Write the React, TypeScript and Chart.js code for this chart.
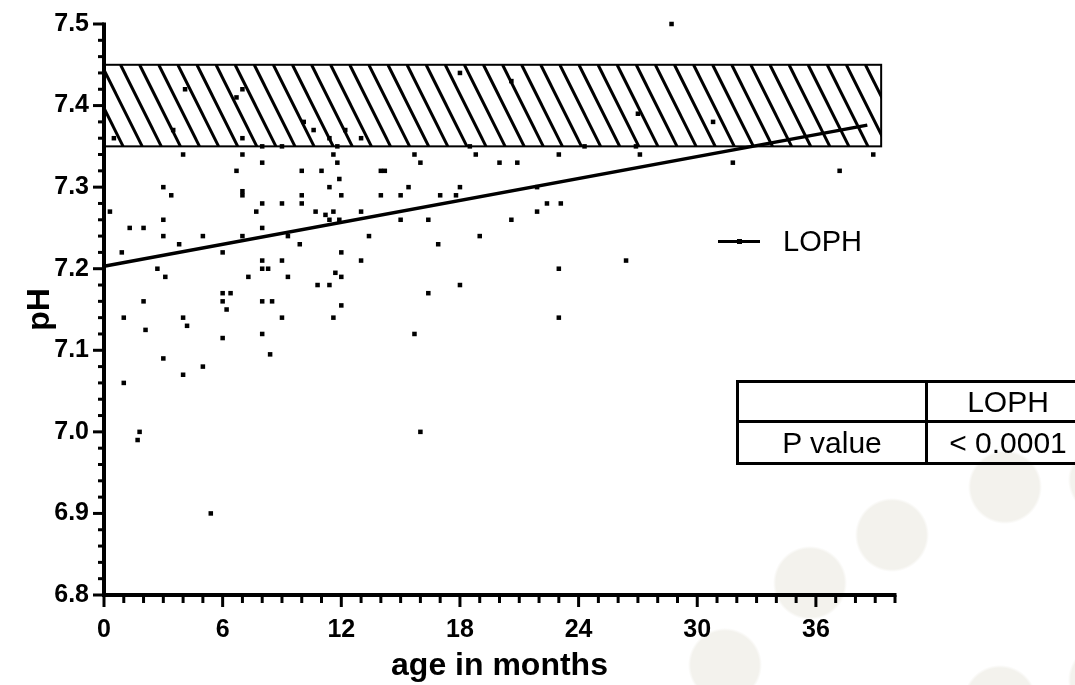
import React, { useEffect, useRef } from 'react';
import { Chart, registerables } from 'chart.js';

Chart.register(...registerables);

// ---- data ----
const AGE_MONTHS = [
  0.5, 4.1, 3.5, 6.7, 7.0, 7.0, 10.1, 10.6, 11.4, 12.2,
  8.0, 9.0, 11.8, 4.0, 7.0, 11.6, 8.0, 11.8, 6.7, 10.0,
  11.0, 11.9, 3.0, 11.4, 7.0, 3.4, 7.0, 10.0, 12.0, 8.0,
  9.0, 10.0, 0.3, 7.7, 10.7, 11.6, 11.2, 11.4, 11.9, 3.0,
  1.3, 2.0, 8.0, 3.0, 5.0, 7.0, 9.3, 3.8, 9.9, 0.9,
  6.0, 12.0, 8.0, 9.0, 2.7, 8.0, 8.3, 11.7, 3.1, 7.3,
  9.3, 12.0, 10.8, 11.4, 6.0, 6.4, 2.0, 6.0, 8.0, 8.5,
  12.0, 6.2, 1.0, 4.0, 9.0, 11.6, 2.1, 4.2, 6.0, 8.0,
  8.4, 3.0, 5.0, 4.0, 1.0, 1.8, 1.7, 5.4,
  13.0, 18.0, 20.6, 18.5, 24.3, 15.7, 18.8, 23.0, 16.0, 20.0,
  20.9, 14.0, 14.2, 15.4, 18.0, 21.9, 14.0, 15.0, 17.0, 17.8,
  22.4, 23.1, 13.0, 21.9, 15.0, 16.4, 20.6, 13.4, 19.0, 16.9,
  13.0, 23.0, 18.0, 16.4, 23.0, 15.7, 16.0,
  28.7, 27.0, 30.8, 26.9, 27.1, 38.9, 31.8, 37.2, 26.4,
];
const PH_VALUES = [
  7.36, 7.42, 7.37, 7.41, 7.42, 7.36, 7.38, 7.37, 7.36, 7.37,
  7.35, 7.35, 7.35, 7.34, 7.34, 7.34, 7.33, 7.33, 7.32, 7.32,
  7.32, 7.31, 7.30, 7.30, 7.295, 7.29, 7.29, 7.29, 7.29, 7.28,
  7.28, 7.28, 7.27, 7.27, 7.27, 7.27, 7.266, 7.26, 7.26, 7.26,
  7.25, 7.25, 7.25, 7.24, 7.24, 7.24, 7.24, 7.23, 7.23, 7.22,
  7.22, 7.22, 7.21, 7.21, 7.20, 7.20, 7.20, 7.195, 7.19, 7.19,
  7.19, 7.19, 7.18, 7.18, 7.17, 7.17, 7.16, 7.16, 7.16, 7.16,
  7.155, 7.15, 7.14, 7.14, 7.14, 7.14, 7.125, 7.13, 7.115, 7.12,
  7.095, 7.09, 7.08, 7.07, 7.06, 7.00, 6.99, 6.90,
  7.36, 7.44, 7.43, 7.35, 7.35, 7.34, 7.34, 7.34, 7.33, 7.33,
  7.33, 7.32, 7.32, 7.30, 7.30, 7.30, 7.29, 7.29, 7.29, 7.29,
  7.28, 7.28, 7.27, 7.27, 7.26, 7.26, 7.26, 7.24, 7.24, 7.23,
  7.21, 7.20, 7.18, 7.17, 7.14, 7.12, 7.00,
  7.50, 7.39, 7.38, 7.35, 7.34, 7.34, 7.33, 7.32, 7.21,
];
const FIT_X = [0, 38.6];
const FIT_Y = [7.203, 7.376];
const NORMAL_PH = [7.35, 7.45];
const NORMAL_X = [0, 39.3];
const X_TICK_LABELS = ['0', '6', '12', '18', '24', '30', '36'];
const Y_TICK_LABELS = ['6.8', '6.9', '7.0', '7.1', '7.2', '7.3', '7.4', '7.5'];
const SERIES_NAME = 'LOPH';
const TABLE_ROW = 'P value';
const P_VALUE = '< 0.0001';
const X_TITLE = 'age in months';
const Y_TITLE = 'pH';

const FONT = '"Liberation Sans", Arial, Helvetica, sans-serif';

const isMajorY = (v: number) =>
  Math.abs(v * 10 - Math.round(v * 10)) < 1e-6 && Y_TICK_LABELS.includes(v.toFixed(1));
const isMajorX = (v: number) => X_TICK_LABELS.includes(String(Math.round(v))) && Math.abs(v - Math.round(v)) < 1e-6;

const bandPlugin = {
  id: 'normalBand',
  beforeDatasetsDraw(chart: any) {
    const { ctx, scales } = chart;
    const xs = scales.x, ys = scales.y;
    const x0 = xs.getPixelForValue(NORMAL_X[0]);
    const x1 = xs.getPixelForValue(NORMAL_X[1]);
    const y0 = ys.getPixelForValue(NORMAL_PH[1]);
    const y1 = ys.getPixelForValue(NORMAL_PH[0]);
    const h = y1 - y0;
    ctx.save();
    ctx.fillStyle = '#fff';
    ctx.fillRect(x0, y0, x1 - x0, h);
    ctx.beginPath();
    ctx.rect(x0, y0, x1 - x0, h);
    ctx.clip();
    ctx.strokeStyle = '#000';
    ctx.lineWidth = 3;
    const spacing = 19.1;
    const dx = h * 0.5;
    for (let sx = x0 - dx - spacing * 2; sx < x1 + spacing; sx += spacing) {
      ctx.beginPath();
      ctx.moveTo(sx, y0);
      ctx.lineTo(sx + dx, y1);
      ctx.stroke();
    }
    ctx.restore();
    ctx.save();
    ctx.strokeStyle = '#000';
    ctx.lineWidth = 2;
    ctx.strokeRect(x0, y0, x1 - x0, h);
    ctx.restore();
  },
};

const axesPlugin = {
  id: 'prismAxes',
  afterDraw(chart: any) {
    const { ctx, scales } = chart;
    const xs = scales.x, ys = scales.y;
    const left = xs.getPixelForValue(0);
    const bottom = ys.getPixelForValue(6.8);
    const top = ys.getPixelForValue(7.5);
    const right = xs.getPixelForValue(40);
    ctx.save();
    ctx.strokeStyle = '#000';
    ctx.lineCap = 'butt';
    ctx.lineWidth = 4;
    ctx.beginPath();
    ctx.moveTo(left - 2, bottom);
    ctx.lineTo(right + 1.5, bottom);
    ctx.stroke();
    ctx.beginPath();
    ctx.moveTo(left, top - 1.5);
    ctx.lineTo(left, bottom + 2);
    ctx.stroke();
    ctx.lineWidth = 3;
    xs.ticks.forEach((t: any) => {
      const px = xs.getPixelForValue(t.value);
      const len = isMajorX(t.value) ? 12 : 8;
      ctx.beginPath();
      ctx.moveTo(px, bottom);
      ctx.lineTo(px, bottom + len);
      ctx.stroke();
    });
    ys.ticks.forEach((t: any) => {
      const py = ys.getPixelForValue(t.value);
      const len = isMajorY(t.value) ? 11 : 6;
      ctx.beginPath();
      ctx.moveTo(left, py);
      ctx.lineTo(left - len, py);
      ctx.stroke();
    });
    ctx.restore();
  },
};

const CIRCLES = [
  [892, 535], [810, 583], [1005, 487], [725, 665], [1000, 702], [1105, 480], [1105, 680],
];

export default function App() {
  const ref = useRef<HTMLCanvasElement | null>(null);

  useEffect(() => {
    if (!ref.current) return;
    const chart = new Chart(ref.current, {
      type: 'scatter',
      data: {
        datasets: [
          {
            label: SERIES_NAME,
            data: AGE_MONTHS.map((x, i) => ({ x, y: PH_VALUES[i] })),
            pointStyle: 'rect',
            pointRadius: 3.2,
            pointBackgroundColor: '#000',
            pointBorderWidth: 0,
            showLine: false,
            clip: false,
          } as any,
          {
            label: SERIES_NAME + ' fit',
            data: FIT_X.map((x, i) => ({ x, y: FIT_Y[i] })),
            showLine: true,
            borderColor: '#000',
            borderWidth: 3.5,
            pointRadius: 0,
            tension: 0,
            clip: false,
          } as any,
        ],
      },
      options: {
        animation: false,
        responsive: false,
        layout: { padding: { top: 24, right: 180, left: 0, bottom: 0 } },
        plugins: { legend: { display: false }, tooltip: { enabled: false } },
        scales: {
          x: {
            type: 'linear',
            min: 0,
            max: 40,
            border: { display: false },
            grid: { display: true, drawOnChartArea: false, drawTicks: true, tickLength: 12, color: 'rgba(0,0,0,0)', tickColor: 'rgba(0,0,0,0)' },
            ticks: {
              stepSize: 1,
              autoSkip: false,
              maxRotation: 0,
              includeBounds: true,
              padding: 8,
              color: '#000',
              font: { family: FONT, size: 25, weight: 'bold' },
              callback: (v: any) => (isMajorX(Number(v)) ? String(Math.round(Number(v))) : ''),
            },
            title: {
              display: true,
              text: X_TITLE,
              color: '#000',
              font: { family: FONT, size: 32, weight: 'bold' },
              padding: { top: 0, bottom: 0 },
            },
            afterFit: (s: any) => { s.height = 90; },
          },
          y: {
            type: 'linear',
            min: 6.8,
            max: 7.5,
            border: { display: false },
            grid: { display: true, drawOnChartArea: false, drawTicks: true, tickLength: 11, color: 'rgba(0,0,0,0)', tickColor: 'rgba(0,0,0,0)' },
            ticks: {
              stepSize: 0.02,
              autoSkip: false,
              maxTicksLimit: 100,
              padding: 4,
              color: '#000',
              font: { family: FONT, size: 25, weight: 'bold' },
              callback: (v: any) => (isMajorY(Number(v)) ? Number(v).toFixed(1) : ''),
            },
            title: {
              display: true,
              text: Y_TITLE,
              color: '#000',
              font: { family: FONT, size: 32, weight: 'bold' },
              padding: { top: 21, bottom: 0 },
            },
            afterFit: (s: any) => { s.width = 104; },
          },
        },
      } as any,
      plugins: [bandPlugin, axesPlugin],
    });
    return () => chart.destroy();
  }, []);

  const bg = CIRCLES.map(
    ([cx, cy]) => `radial-gradient(circle 37px at ${cx}px ${cy}px, rgb(243,242,237) 92%, rgba(243,242,237,0) 100%)`
  ).join(', ');

  const textStyle: React.CSSProperties = {
    position: 'absolute',
    fontFamily: FONT,
    fontSize: 30,
    color: '#000',
    textAlign: 'center',
    whiteSpace: 'nowrap',
  };

  return (
    <div
      style={{
        position: 'fixed',
        left: 0,
        top: 0,
        width: 1075,
        height: 685,
        overflow: 'hidden',
        backgroundColor: '#fff',
        backgroundImage: bg,
      }}
    >
      <canvas ref={ref} width={1075} height={685} style={{ position: 'absolute', left: 0, top: 0, width: 1075, height: 685 }} />
      {/* legend */}
      <div style={{ position: 'absolute', left: 718, top: 239.5, width: 42, height: 3, background: '#000' }} />
      <div style={{ position: 'absolute', left: 737, top: 239, width: 5, height: 5, background: '#000' }} />
      <div style={{ ...textStyle, textAlign: 'left', left: 783, top: 227, lineHeight: '29px', fontSize: 29 }}>{SERIES_NAME}</div>
      {/* P value table */}
      <div style={{ position: 'absolute', left: 736, top: 380, width: 360, height: 85, border: '3px solid #000', boxSizing: 'border-box' }} />
      <div style={{ position: 'absolute', left: 736, top: 420, width: 360, height: 3, background: '#000' }} />
      <div style={{ position: 'absolute', left: 925, top: 380, width: 3, height: 85, background: '#000' }} />
      <div style={{ ...textStyle, left: 928, top: 383, width: 160, height: 37, lineHeight: '37px' }}>{SERIES_NAME}</div>
      <div style={{ ...textStyle, left: 739, top: 423, width: 186, height: 39, lineHeight: '39px' }}>{TABLE_ROW}</div>
      <div style={{ ...textStyle, left: 928, top: 423, width: 160, height: 39, lineHeight: '39px' }}>{P_VALUE}</div>
    </div>
  );
}
